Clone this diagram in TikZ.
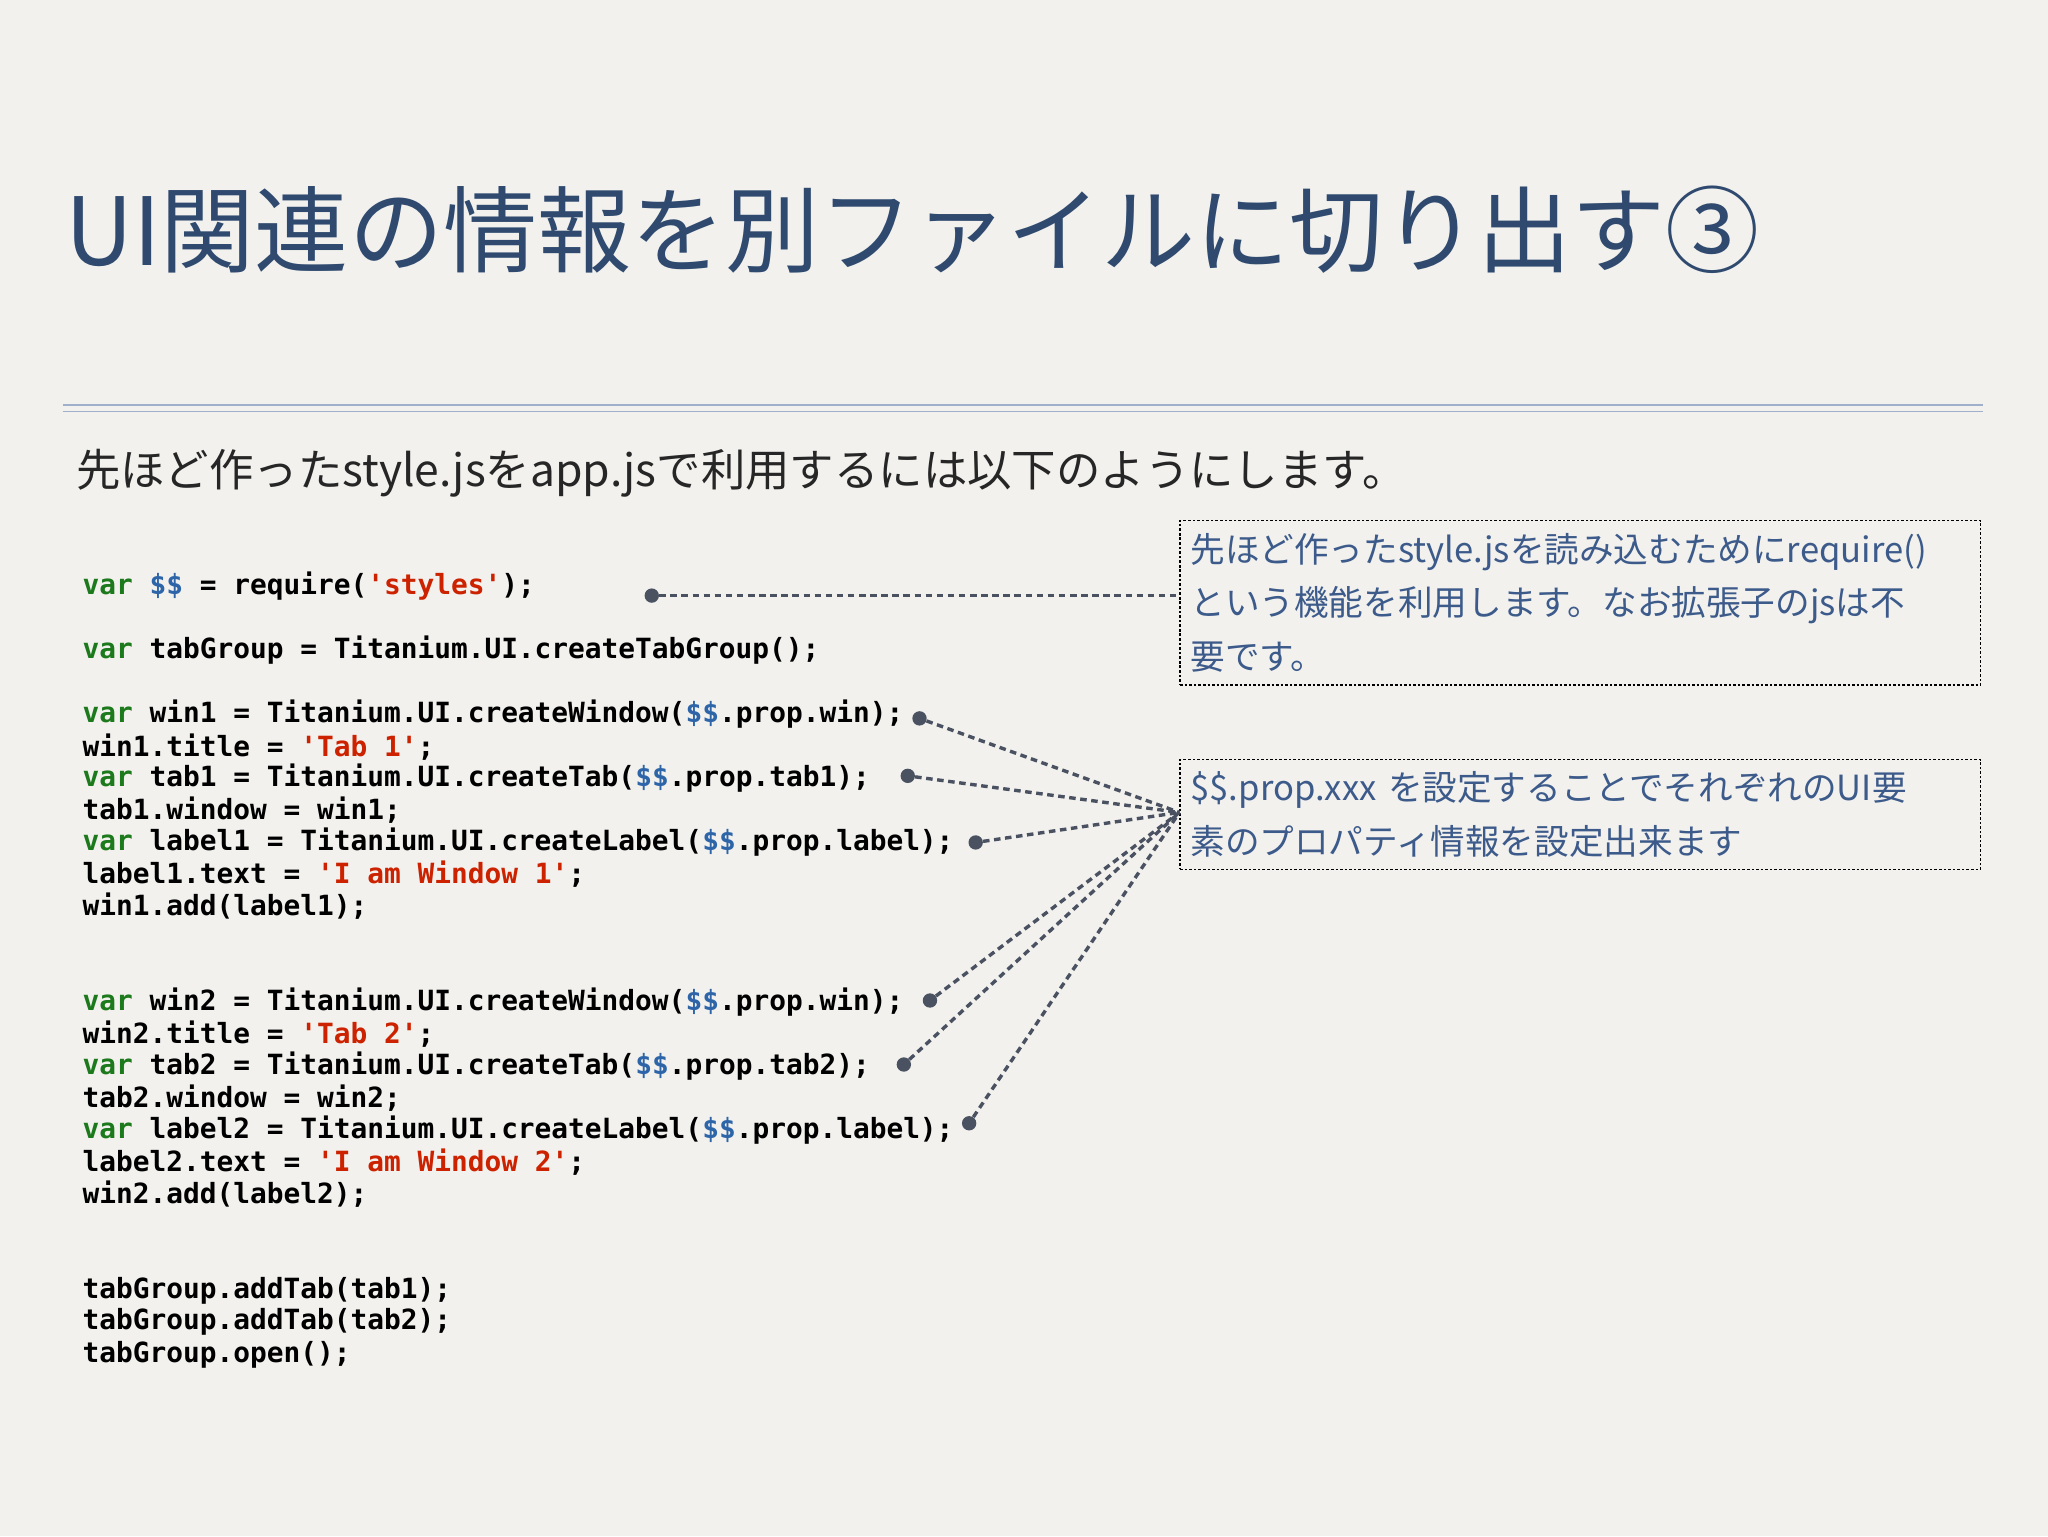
\documentclass[tikz,border=0pt]{standalone}
\usepackage{fontspec}
\setmainfont{Noto Sans CJK JP}
\setmonofont{DejaVu Sans Mono}
\newfontfamily\cjk{Noto Sans CJK JP}
\definecolor{bg}{HTML}{F2F1EE}
\definecolor{ttl}{HTML}{2F4A6E}
\definecolor{cbl}{HTML}{3C5A8A}
\definecolor{kw}{HTML}{1C7A1C}
\definecolor{dl}{HTML}{2E65A8}
\definecolor{st}{HTML}{CC2200}
\definecolor{cn}{HTML}{4A5262}
\definecolor{rl}{HTML}{9FB0CC}
\newcommand{\K}[1]{\textcolor{kw}{#1}}
\newcommand{\D}{\textcolor{dl}{\$\$}}
\newcommand{\Sq}[1]{\textcolor{st}{#1}}
\begin{document}
\begin{tikzpicture}[x=1pt,y=-1pt,
  code/.style={anchor=west,inner sep=0pt,font=\ttfamily\bfseries\fontsize{21.3}{24}\selectfont,text=black},
  callout/.style={draw=black,dash pattern=on 2pt off 1.5pt,line width=1pt,anchor=north west,text width=597pt,align=left,inner sep=8pt,text=cbl,font=\cjk\fontsize{26.5}{41}\selectfont},
  conn/.style={draw=cn,line width=2.6pt,dash pattern=on 5pt off 3.5pt},
  dotc/.style={circle,fill=cn,inner sep=0pt,minimum size=11pt}]
\fill[bg] (0,0) rectangle (1568,1176);
\useasboundingbox (0,0) rectangle (1568,1176);
\node[anchor=west,inner sep=0pt,text=ttl,font=\cjk\fontsize{72}{80}\selectfont] (title) at (50,176) {UI関連の情報を別ファイルに切り出す③};
\draw[rl,line width=1.2pt] (48,310) -- (1518,310);
\draw[rl,line width=1.2pt] (48,315) -- (1518,315);
\node[anchor=west,inner sep=0pt,text=black!85,font=\cjk\fontsize{34}{38}\selectfont] (sub) at (58,362) {先ほど作ったstyle.jsをapp.jsで利用するには以下のようにします。};
% code
\node[code] (c1) at (63,449) {\K{var} \D{} = require(\Sq{'styles'});};
\node[code] (c2) at (63,498) {\K{var} tabGroup = Titanium.UI.createTabGroup();};
\node[code] (c3) at (63,547) {\K{var} win1 = Titanium.UI.createWindow(\D.prop.win);};
\node[code] (c4) at (63,572) {win1.title = \Sq{'Tab 1'};};
\node[code] (c5) at (63,596) {\K{var} tab1 = Titanium.UI.createTab(\D.prop.tab1);};
\node[code] (c6) at (63,620) {tab1.window = win1;};
\node[code] (c7) at (63,645) {\K{var} label1 = Titanium.UI.createLabel(\D.prop.label);};
\node[code] (c8) at (63,669) {label1.text = \Sq{'I am Window 1'};};
\node[code] (c9) at (63,694) {win1.add(label1);};
\node[code] (d1) at (63,767) {\K{var} win2 = Titanium.UI.createWindow(\D.prop.win);};
\node[code] (d2) at (63,792) {win2.title = \Sq{'Tab 2'};};
\node[code] (d3) at (63,816) {\K{var} tab2 = Titanium.UI.createTab(\D.prop.tab2);};
\node[code] (d4) at (63,841) {tab2.window = win2;};
\node[code] (d5) at (63,865) {\K{var} label2 = Titanium.UI.createLabel(\D.prop.label);};
\node[code] (d6) at (63,890) {label2.text = \Sq{'I am Window 2'};};
\node[code] (d7) at (63,914) {win2.add(label2);};
\node[code] (e1) at (63,988) {tabGroup.addTab(tab1);};
\node[code] (e2) at (63,1012) {tabGroup.addTab(tab2);};
\node[code] (e3) at (63,1037) {tabGroup.open();};
% callouts
\node[callout,minimum height=126pt] (b1) at (903,398) {先ほど作ったstyle.jsを読み込むためにrequire()\\という機能を利用します。なお拡張子のjsは不\\要です。};
\node[callout,minimum height=84pt] (b2) at (903,581) {\$\$.prop.xxx を設定することでそれぞれのUI要\\素のプロパティ情報を設定出来ます};
\coordinate (h1) at (903,456);
\coordinate (h2) at (903,622);
\node[dotc] (p0) at (499,456) {};
\node[dotc] (p1) at (704,550) {};
\node[dotc] (p2) at (695,594) {};
\node[dotc] (p3) at (747,645) {};
\node[dotc] (p4) at (712,766) {};
\node[dotc] (p5) at (692,815) {};
\node[dotc] (p6) at (742,860) {};
\draw[conn] (p0) -- (h1);
\foreach \p in {p1,p2,p3,p4,p5,p6} \draw[conn] (\p) -- (h2);
\end{tikzpicture}
\end{document}
